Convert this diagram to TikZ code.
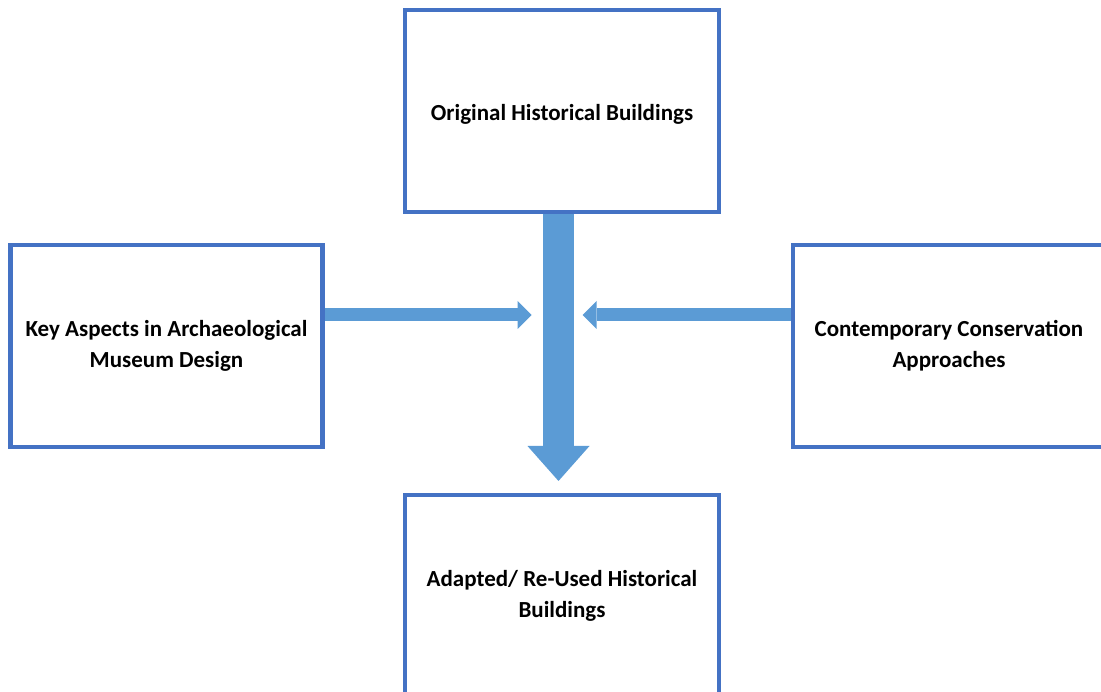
\documentclass[tikz,border=0pt]{standalone}
\usepackage{fontspec}
\setmainfont{Carlito}
\usetikzlibrary{arrows.meta}
\definecolor{boxblue}{HTML}{4472C4}
\definecolor{arrblue}{HTML}{5B9BD5}
\begin{document}
\begin{tikzpicture}[x=1pt,y=-1pt,
  box/.style={draw=boxblue, line width=4.5pt, fill=white, inner sep=0pt, outer sep=0pt,
    minimum height=202pt, align=center, text=black,
    font=\fontsize{23}{31}\selectfont\bfseries},
  bigarrow/.style={draw=arrblue, line width=31pt,
    -{Triangle[width=62pt,length=35pt,line width=0pt]}},
  smallarrow/.style={draw=arrblue, line width=13pt,
    -{Triangle[width=28pt,length=14pt,line width=0pt]}}]
\useasboundingbox (0,0) rectangle (1101,692);
\clip (0,0) rectangle (1101,692);
\node[box, minimum width=314pt] (top) at (562,111) {\raisebox{-3pt}[\height][\depth]{Original Historical Buildings}};
\node[box, minimum width=312pt] (left) at (166.5,346) {Key Aspects in Archaeological\\Museum Design};
\node[box, minimum width=312pt] (right) at (949,346) {Contemporary Conservation\\Approaches};
\node[box, minimum width=314pt] (bottom) at (562,596) {Adapted/ Re-Used Historical\\Buildings};
\coordinate (ltip) at (531.7,315);
\coordinate (rtip) at (582.7,315);
\draw[bigarrow, shorten <=2.25pt, shorten >=14pt] ([xshift=-3.5pt]top.south) -- ([xshift=-3.5pt]bottom.north);
\draw[smallarrow, shorten <=2.25pt] (left.east |- ltip) -- (ltip);
\draw[smallarrow, shorten <=2.25pt] (right.west |- rtip) -- (rtip);
\end{tikzpicture}
\end{document}
